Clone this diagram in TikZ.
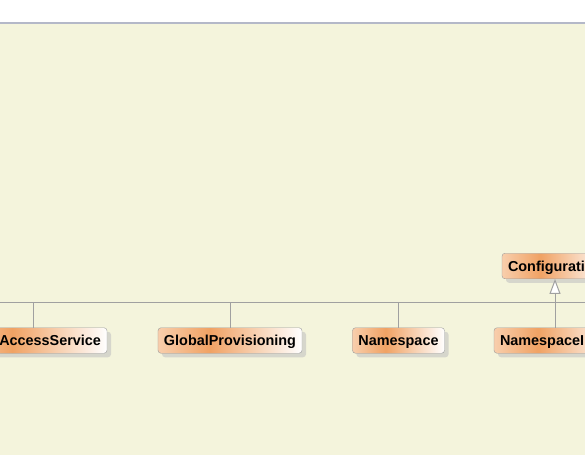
\documentclass[tikz,border=0pt]{standalone}
\usepackage{fontspec}
\setmainfont{Liberation Sans}
\usetikzlibrary{arrows.meta,shadows}

\definecolor{paper}{HTML}{F4F4DC}
\definecolor{rimline}{HTML}{B4B8C8}
\definecolor{wire}{HTML}{A0A0A0}
\definecolor{boxrim}{HTML}{9A9A9A}
\definecolor{peach}{HTML}{F8CEAC}
\definecolor{tangerine}{HTML}{F0A264}
\definecolor{shade}{HTML}{D6D6CC}
\pgfdeclarehorizontalshading{classfill}{100bp}{color(0bp)=(peach); color(25bp)=(peach); color(43bp)=(tangerine); color(75bp)=(white); color(100bp)=(white)}

\tikzset{
  classbox/.style={draw=boxrim, rounded corners=3pt, shading=classfill,
    minimum height=25.5pt, inner xsep=6pt, inner ysep=0pt,
    text height=10.4pt, text depth=0pt,
    font=\fontsize{14.4}{16}\selectfont\bfseries,
    drop shadow={shadow xshift=4pt, shadow yshift=-4pt, fill=shade, opacity=1}},
  wireline/.style={draw=wire, line width=1pt}
}

\begin{document}
\begin{tikzpicture}[x=1pt,y=-1pt]
    \useasboundingbox (0,0) rectangle (585,455);
    \begin{scope}
    \clip (0,0) rectangle (585,455);
    \fill[white] (0,0) rectangle (585,23);
    \fill[paper] (0,23) rectangle (585,455);
    \draw[rimline, line width=1.2pt] (0,23) -- (585,23);

    \node[classbox, text width=136pt, align=right] (access) at (33,340.5) {AccessService};
    \node[classbox] (global) at (230,340.5) {GlobalProvisioning};
    \node[classbox] (names) at (398.5,340.5) {Namespace};
    \node[classbox, text width=110pt, align=left] (impl) at (555,340.5) {NamespaceI};
    \node[classbox, text width=94pt, align=left] (config) at (555,266) {Configurati};

    \coordinate (busL) at (0,302);
    \coordinate (busR) at (585,302);

    \path[wireline] (busL) -- (busR);
    \path[wireline] (access.north) -- (access.north |- busL);
    \path[wireline] (global.north) -- (global.north |- busL);
    \path[wireline] (names.north) -- (names.north |- busL);
    \path[wireline, -{Triangle[open, fill=white, length=15pt, width=11pt]}] (impl.north) -- (config.south);
    \end{scope}
\end{tikzpicture}
\end{document}
